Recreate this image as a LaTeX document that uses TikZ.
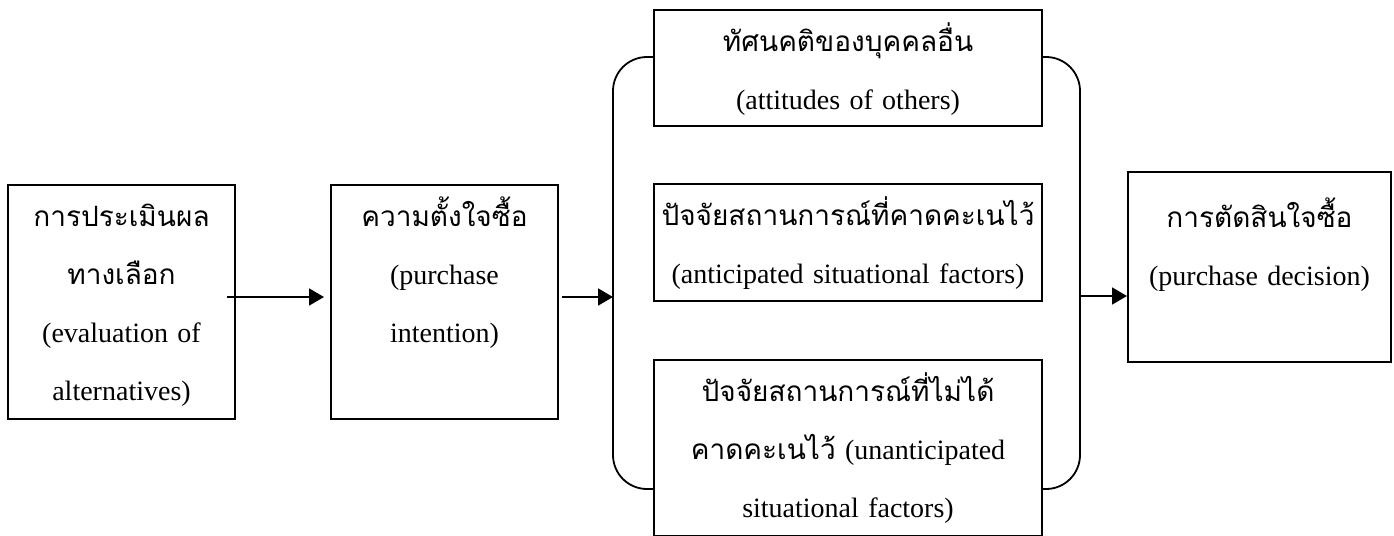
\documentclass[tikz,border=0pt]{standalone}
\usepackage{fontspec}
\setmainfont{Liberation Serif}
\newfontfamily\thai[Script=Thai]{Loma}
\usetikzlibrary{arrows.meta}
\tikzset{box/.style={draw, line width=1pt, inner sep=0pt, align=center, text height=20.5pt, anchor=north west},
  arr/.style={-{Triangle[length=7.5pt,width=8.5pt]}, line width=0.9pt}}

\begin{document}
\begin{tikzpicture}[x=0.5pt, y=-0.5pt, font=\fontsize{14}{29}\selectfont]
\useasboundingbox (0,0) rectangle (1394,536);
\node[box, text width=113.5pt, text depth=96.5pt] at (7,184)(eval){{\thai การประเมินผล}\\{\thai ทางเลือก}\\(evaluation of\\alternatives)};
\node[box, text width=113.5pt, text depth=96.5pt] at (330,184)(intent){{\thai ความตั้งใจซื้อ}\\(purchase\\intention)};
\node[box, text width=194pt, text depth=37.5pt] at (653,9)(attit){{\thai ทัศนคติของบุคคลอื่น}\\(attitudes of others)};
\node[box, text width=194pt, text depth=38pt] at (653,183)(antic){{\thai ปัจจัยสถานการณ์ที่คาดคะเนไว้}\\(anticipated situational factors)};
\node[box, text width=194pt, text depth=67.5pt] at (653,359)(unant){{\thai ปัจจัยสถานการณ์ที่ไม่ได้}\\{\thai คาดคะเนไว้} (unanticipated\\situational factors)};
\node[box, text width=131.5pt, text height=27.5pt, text depth=67.5pt] at (1127,171)(dec){{\thai การตัดสินใจซื้อ}\\(purchase decision)};
\coordinate (bl) at (613,297);
\coordinate (br) at (1080,296);
\coordinate (a1) at (227,297);
\coordinate (a2) at (562,297);
\draw[line width=0.9pt, rounded corners=17pt] ([yshift=5.5pt]attit.west) -| (bl) |- ([yshift=-20.5pt]unant.west);
\draw[line width=0.9pt, rounded corners=17pt] ([yshift=5.5pt]attit.east) -| (br) |- ([yshift=-20.5pt]unant.east);
\draw[arr] (a1) -- ([xshift=-3pt]intent.west |- a1);
\draw[arr] (a2) -- (bl);
\draw[arr] (br) -- (dec.west |- br);
\end{tikzpicture}
\end{document}
